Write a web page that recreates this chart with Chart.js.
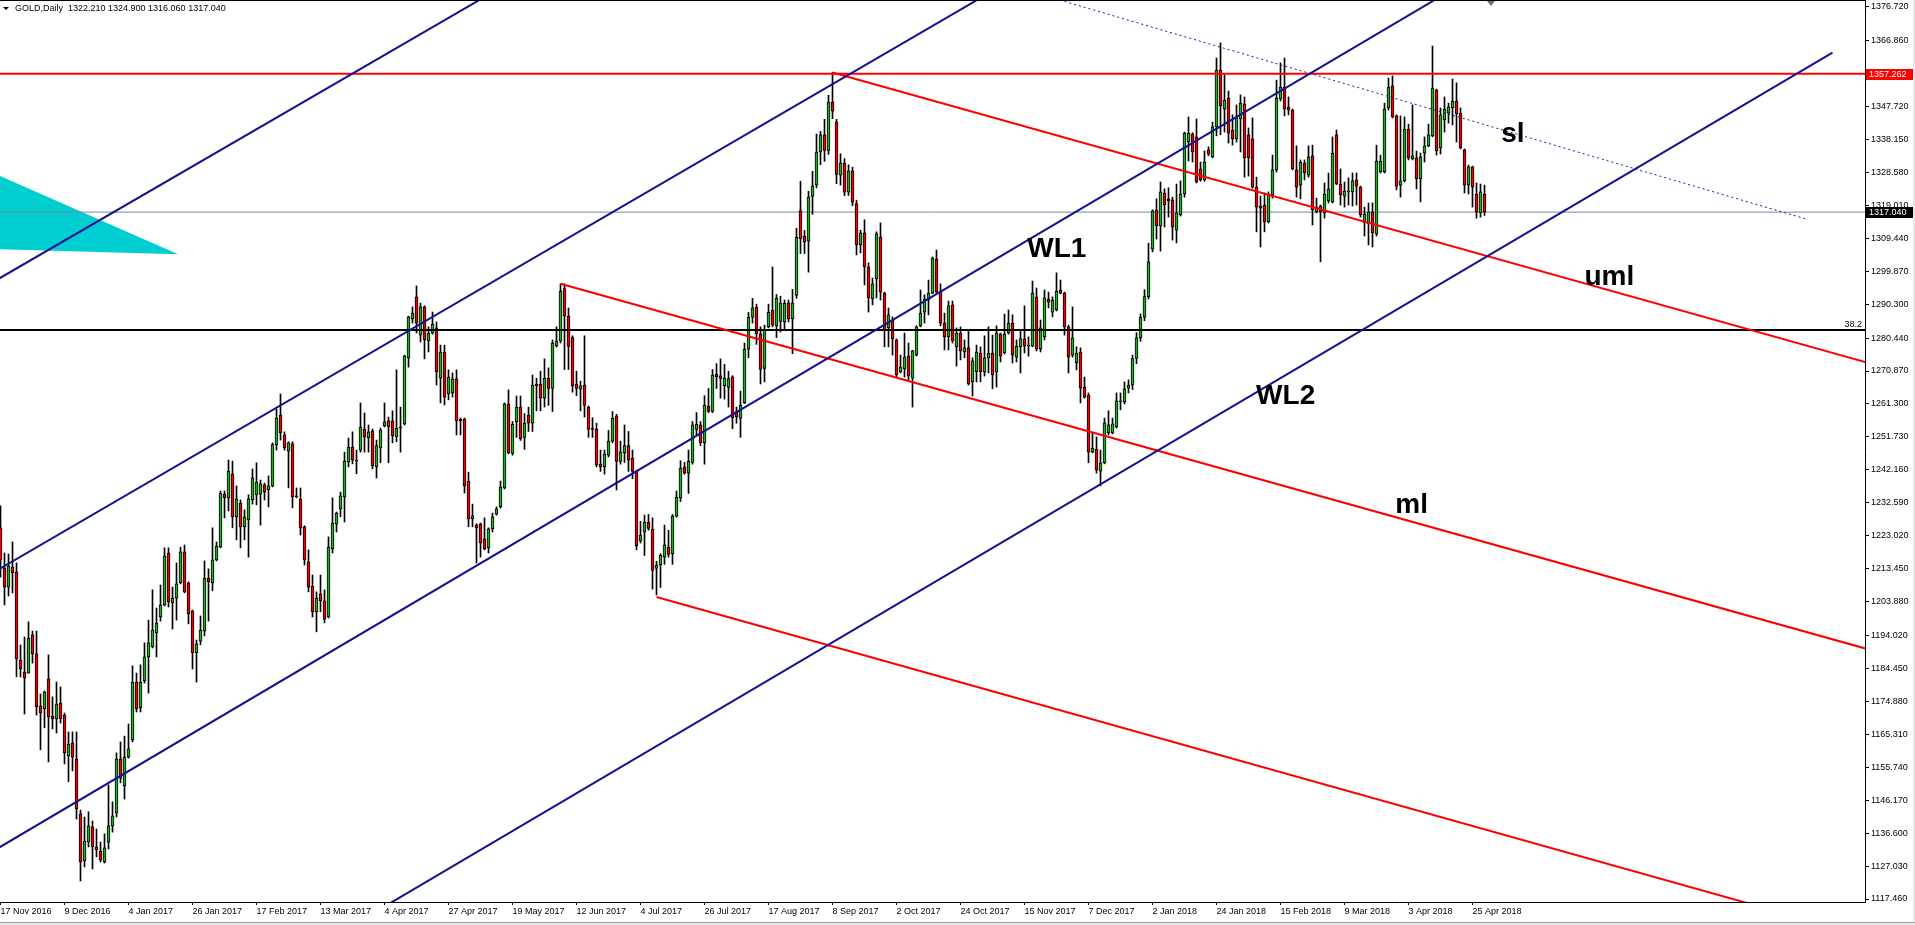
<!DOCTYPE html>
<html>
<head>
<meta charset="utf-8">
<title>GOLD,Daily</title>
<script src="https://cdn.jsdelivr.net/npm/chart.js@4.4.1/dist/chart.umd.min.js"></script>
<style>
  html, body { margin: 0; padding: 0; background: #fff; overflow: hidden; }
  #wrap { position: relative; width: 1915px; height: 925px; }
</style>
</head>
<body>
<div id="wrap"><canvas id="goldChart" width="1915" height="925"></canvas></div>
<script>
// ===== 데이터 (GOLD, Daily) =====
const headerText = 'GOLD,Daily  1322.210 1324.900 1316.060 1317.040';

// date labels, every 16 bars
const dateLabels = ['17 Nov 2016', '9 Dec 2016', '4 Jan 2017', '26 Jan 2017', '17 Feb 2017', '13 Mar 2017',
    '4 Apr 2017', '27 Apr 2017', '19 May 2017', '12 Jun 2017', '4 Jul 2017', '26 Jul 2017', '17 Aug 2017',
    '8 Sep 2017', '2 Oct 2017', '24 Oct 2017', '15 Nov 2017', '7 Dec 2017', '2 Jan 2018', '24 Jan 2018',
    '15 Feb 2018', '9 Mar 2018', '3 Apr 2018', '25 Apr 2018'];
const dateTickBars = [0, 16, 32, 48, 64, 80, 96, 112, 128, 144, 160, 176, 192, 208, 224, 240, 256, 272,
    288, 304, 320, 336, 352, 368];

const priceTicks = [1376.72, 1366.86, 1347.72, 1338.15, 1328.58, 1319.01, 1309.44, 1299.87, 1290.30,
    1280.44, 1270.87, 1261.30, 1251.73, 1242.16, 1232.59, 1223.02, 1213.45, 1203.88, 1194.02, 1184.45,
    1174.88, 1165.31, 1155.74, 1146.17, 1136.60, 1127.03, 1117.46];

const opens = [
    1225.3, 1213.6, 1208.1, 1213.9, 1212.5, 1186.9, 1183.4, 1183.1, 1194.2, 1188.7,
    1173.5, 1172.7, 1181.4, 1170.6, 1169.8, 1174.4, 1170.9, 1159.0, 1162.8, 1158.2,
    1142.2, 1128.5, 1134.0, 1138.4, 1132.6, 1131.4, 1128.2, 1134.0, 1138.7, 1142.5,
    1158.2, 1150.3, 1158.7, 1163.7, 1180.5, 1173.0, 1180.8, 1187.8, 1190.7, 1194.8,
    1199.4, 1202.9, 1218.0, 1203.5, 1204.9, 1209.3, 1218.3, 1209.3, 1201.2, 1189.0,
    1192.4, 1195.3, 1210.7, 1209.3, 1216.0, 1219.7, 1235.1, 1234.0, 1241.0, 1228.5,
    1232.5, 1225.6, 1227.6, 1233.4, 1234.9, 1235.1, 1237.8, 1236.3, 1237.5, 1249.5,
    1258.1, 1252.3, 1247.6, 1249.7, 1234.6, 1233.7, 1225.6, 1215.4, 1208.4, 1200.9,
    1206.1, 1204.1, 1199.4, 1219.2, 1226.4, 1230.8, 1234.3, 1244.4, 1248.8, 1245.0,
    1247.9, 1254.0, 1251.4, 1253.5, 1243.0, 1248.5, 1254.9, 1256.4, 1256.4, 1251.7,
    1254.6, 1255.5, 1274.7, 1286.0, 1292.4, 1281.3, 1289.5, 1279.6, 1281.9, 1283.4,
    1268.8, 1276.4, 1264.2, 1264.5, 1268.6, 1256.9, 1256.9, 1238.9, 1227.9, 1226.1,
    1226.4, 1222.1, 1219.5, 1225.0, 1229.3, 1231.4, 1236.9, 1261.3, 1246.9, 1256.1,
    1260.4, 1251.6, 1258.1, 1255.7, 1267.1, 1267.1, 1263.0, 1268.8, 1265.8, 1278.2,
    1279.6, 1294.8, 1286.8, 1280.6, 1267.1, 1265.6, 1266.8, 1260.4, 1254.3, 1253.9,
    1243.8, 1243.0, 1246.4, 1250.5, 1257.8, 1244.6, 1247.1, 1249.2, 1245.6, 1241.7,
    1221.5, 1224.1, 1227.0, 1224.9, 1213.5, 1214.5, 1216.8, 1219.7, 1217.8, 1228.7,
    1233.9, 1243.0, 1241.2, 1244.3, 1253.9, 1255.2, 1250.0, 1260.6, 1259.1, 1269.9,
    1269.5, 1266.6, 1266.1, 1269.2, 1259.1, 1257.1, 1261.6, 1277.2, 1286.5, 1289.4,
    1281.7, 1271.6, 1283.7, 1288.6, 1284.0, 1285.3, 1285.1, 1290.7, 1286.1, 1292.8,
    1317.5, 1310.0, 1308.6, 1321.6, 1324.9, 1334.5, 1339.5, 1335.0, 1349.0, 1343.3,
    1327.8, 1331.3, 1322.8, 1329.0, 1319.5, 1307.5, 1311.0, 1301.1, 1291.8, 1297.6,
    1309.8, 1293.5, 1283.4, 1285.7, 1279.9, 1270.6, 1271.5, 1275.2, 1268.8, 1275.5,
    1284.0, 1288.0, 1291.5, 1293.5, 1303.4, 1293.8, 1284.8, 1280.8, 1290.1, 1277.9,
    1281.9, 1276.4, 1277.6, 1267.7, 1270.6, 1276.1, 1270.6, 1274.7, 1276.1, 1270.6,
    1281.6, 1276.1, 1281.9, 1284.8, 1274.9, 1277.9, 1280.2, 1278.1, 1278.1, 1292.4,
    1277.3, 1280.8, 1291.8, 1288.0, 1288.6, 1294.4, 1293.5, 1283.7, 1275.5, 1273.2,
    1276.4, 1266.2, 1263.9, 1247.3, 1248.2, 1241.8, 1244.2, 1252.9, 1252.9, 1254.6,
    1261.9, 1261.9, 1265.9, 1266.8, 1274.5, 1280.5, 1286.5, 1292.5, 1306.3, 1317.7,
    1313.0, 1322.6, 1320.9, 1320.6, 1311.8, 1316.2, 1322.3, 1337.4, 1339.7, 1338.9,
    1329.6, 1326.4, 1335.1, 1333.1, 1341.8, 1358.3, 1347.0, 1350.2, 1340.9, 1338.3,
    1344.1, 1348.5, 1339.5, 1338.3, 1324.3, 1318.8, 1319.1, 1314.2, 1322.0, 1329.3,
    1349.9, 1353.4, 1347.6, 1346.7, 1329.3, 1324.9, 1331.3, 1327.8, 1333.4, 1317.1,
    1318.8, 1316.8, 1320.3, 1320.0, 1339.5, 1325.2, 1321.7, 1322.9, 1322.9, 1326.4,
    1324.3, 1313.9, 1313.6, 1317.1, 1310.7, 1328.7, 1328.7, 1347.3, 1353.7, 1345.0,
    1324.9, 1326.1, 1341.2, 1332.5, 1332.8, 1326.7, 1334.2, 1336.3, 1339.2, 1352.5,
    1335.7, 1343.8, 1345.8, 1347.3, 1349.3, 1345.8, 1335.1, 1324.9, 1330.2, 1322.3,
    1316.8, 1322.21
];
const highs = [
    1231.7, 1218.0, 1217.7, 1221.2, 1215.1, 1191.3, 1193.6, 1198.0, 1195.3, 1195.3,
    1177.0, 1177.9, 1188.4, 1176.2, 1180.5, 1179.1, 1171.5, 1166.0, 1166.0, 1166.0,
    1143.3, 1141.3, 1142.8, 1140.1, 1137.8, 1134.0, 1136.4, 1150.6, 1145.7, 1159.9,
    1163.1, 1164.8, 1168.3, 1185.2, 1183.1, 1185.5, 1191.9, 1198.5, 1207.3, 1202.0,
    1208.7, 1219.5, 1219.5, 1208.1, 1215.1, 1219.7, 1220.3, 1209.6, 1201.4, 1192.7,
    1199.7, 1215.7, 1213.4, 1225.3, 1221.2, 1236.0, 1236.0, 1245.0, 1244.7, 1237.5,
    1233.4, 1230.5, 1234.9, 1242.4, 1244.2, 1239.2, 1238.3, 1240.4, 1250.0, 1259.8,
    1264.2, 1253.2, 1250.3, 1250.3, 1236.9, 1236.9, 1225.9, 1218.9, 1211.6, 1206.7,
    1211.6, 1207.3, 1222.7, 1234.0, 1229.9, 1235.7, 1247.3, 1251.4, 1253.2, 1247.9,
    1261.6, 1258.7, 1255.2, 1254.0, 1250.8, 1254.3, 1261.6, 1257.5, 1259.3, 1271.2,
    1260.4, 1275.5, 1286.8, 1289.5, 1295.6, 1290.6, 1289.8, 1283.7, 1288.0, 1285.1,
    1278.4, 1278.4, 1271.2, 1270.3, 1271.2, 1257.2, 1257.2, 1241.5, 1232.2, 1226.5,
    1226.7, 1228.2, 1225.3, 1229.6, 1231.4, 1238.9, 1261.6, 1265.4, 1256.2, 1263.6,
    1263.6, 1258.5, 1260.4, 1269.7, 1268.8, 1270.8, 1274.4, 1271.8, 1279.9, 1283.7,
    1296.2, 1296.2, 1289.2, 1281.1, 1270.8, 1267.9, 1281.1, 1260.7, 1257.3, 1255.7,
    1247.9, 1247.9, 1253.6, 1259.1, 1258.3, 1250.5, 1255.2, 1253.3, 1247.9, 1242.0,
    1227.2, 1229.0, 1229.2, 1228.2, 1215.6, 1217.8, 1226.1, 1224.6, 1229.2, 1236.0,
    1244.8, 1244.3, 1247.9, 1256.2, 1258.8, 1256.2, 1263.7, 1265.8, 1271.3, 1273.0,
    1274.4, 1272.8, 1270.8, 1269.5, 1260.4, 1265.0, 1279.0, 1287.9, 1292.0, 1290.3,
    1283.7, 1284.2, 1290.3, 1301.1, 1293.1, 1292.6, 1291.5, 1291.5, 1294.6, 1312.3,
    1326.0, 1311.7, 1323.1, 1328.9, 1339.7, 1340.5, 1344.0, 1351.0, 1357.6, 1344.0,
    1334.0, 1332.6, 1330.8, 1330.1, 1320.5, 1311.8, 1314.8, 1302.3, 1297.9, 1311.3,
    1313.9, 1293.8, 1289.2, 1286.6, 1280.2, 1275.5, 1281.9, 1279.0, 1276.9, 1284.0,
    1294.4, 1293.0, 1297.3, 1304.0, 1306.0, 1296.2, 1287.7, 1291.2, 1291.2, 1283.4,
    1283.7, 1279.9, 1282.8, 1274.7, 1278.4, 1277.9, 1281.1, 1283.7, 1281.3, 1284.0,
    1281.9, 1287.4, 1288.6, 1287.2, 1279.9, 1282.8, 1289.8, 1280.8, 1297.0, 1295.0,
    1285.7, 1294.4, 1293.8, 1292.4, 1299.4, 1297.3, 1293.8, 1284.2, 1289.5, 1277.9,
    1277.6, 1269.1, 1264.5, 1252.9, 1251.7, 1247.9, 1257.2, 1259.3, 1257.2, 1264.5,
    1264.5, 1267.7, 1268.3, 1275.5, 1282.0, 1287.5, 1294.5, 1308.0, 1317.7, 1320.9,
    1325.8, 1323.8, 1324.1, 1321.4, 1325.2, 1326.1, 1340.3, 1344.7, 1340.1, 1344.1,
    1331.6, 1334.8, 1336.0, 1343.2, 1361.8, 1366.2, 1356.9, 1352.2, 1345.3, 1348.2,
    1351.1, 1350.5, 1341.5, 1344.4, 1327.2, 1321.7, 1322.6, 1322.9, 1333.6, 1355.4,
    1360.4, 1361.8, 1350.5, 1347.0, 1336.3, 1332.2, 1332.2, 1336.3, 1336.5, 1321.1,
    1319.1, 1325.5, 1328.4, 1338.9, 1340.9, 1329.6, 1325.8, 1327.0, 1328.4, 1328.4,
    1324.6, 1318.5, 1319.7, 1319.7, 1336.5, 1333.6, 1348.7, 1356.0, 1356.6, 1345.3,
    1345.0, 1344.7, 1342.6, 1348.2, 1334.8, 1334.2, 1338.9, 1342.6, 1365.3, 1352.8,
    1347.3, 1350.5, 1348.7, 1355.7, 1354.6, 1347.3, 1335.4, 1330.7, 1330.4, 1325.5,
    1325.2, 1324.9
];
const lows = [
    1211.0, 1202.9, 1205.5, 1206.4, 1182.0, 1182.0, 1171.2, 1183.1, 1186.0, 1170.9,
    1160.8, 1167.2, 1157.3, 1166.9, 1165.7, 1168.6, 1156.7, 1151.5, 1154.7, 1140.7,
    1122.7, 1126.8, 1132.6, 1126.2, 1129.7, 1128.2, 1127.9, 1132.0, 1136.9, 1141.3,
    1151.2, 1146.5, 1158.4, 1163.1, 1171.8, 1171.8, 1180.2, 1177.3, 1190.4, 1187.8,
    1198.2, 1202.6, 1202.3, 1195.9, 1198.5, 1209.0, 1206.4, 1197.4, 1184.3, 1180.5,
    1191.3, 1193.9, 1198.2, 1207.0, 1215.7, 1219.5, 1228.2, 1230.2, 1225.3, 1221.8,
    1219.5, 1221.8, 1216.8, 1232.2, 1232.0, 1226.1, 1233.4, 1231.4, 1237.2, 1247.9,
    1250.8, 1247.9, 1236.9, 1231.1, 1234.0, 1223.2, 1214.5, 1206.7, 1199.4, 1195.1,
    1200.9, 1197.7, 1199.1, 1218.0, 1224.1, 1228.5, 1227.0, 1243.0, 1243.9, 1241.0,
    1247.3, 1247.3, 1247.3, 1242.4, 1239.8, 1244.2, 1254.6, 1244.2, 1250.0, 1250.3,
    1247.3, 1255.2, 1272.0, 1284.8, 1281.9, 1279.3, 1274.4, 1276.4, 1281.6, 1266.8,
    1261.6, 1261.0, 1262.5, 1263.3, 1252.3, 1252.3, 1235.4, 1225.6, 1225.6, 1215.1,
    1216.8, 1218.9, 1218.0, 1224.1, 1229.0, 1231.0, 1236.6, 1246.8, 1246.4, 1251.6,
    1250.7, 1248.1, 1253.3, 1253.3, 1259.3, 1259.3, 1260.4, 1260.9, 1259.1, 1277.8,
    1279.0, 1271.3, 1271.3, 1264.7, 1263.7, 1259.3, 1257.5, 1251.6, 1251.6, 1243.0,
    1241.7, 1240.9, 1245.9, 1250.0, 1236.3, 1243.8, 1244.3, 1241.7, 1239.6, 1218.9,
    1220.9, 1217.3, 1224.6, 1207.5, 1205.8, 1208.0, 1214.7, 1216.8, 1214.7, 1228.4,
    1232.9, 1240.9, 1235.3, 1243.8, 1252.1, 1249.2, 1243.8, 1258.8, 1258.8, 1265.8,
    1263.0, 1262.7, 1260.4, 1254.1, 1255.7, 1251.6, 1261.4, 1274.7, 1284.8, 1278.6,
    1267.1, 1267.7, 1283.4, 1283.7, 1280.6, 1282.2, 1282.7, 1285.1, 1275.9, 1292.0,
    1305.0, 1305.0, 1299.6, 1316.4, 1324.1, 1330.8, 1331.8, 1333.8, 1344.2, 1325.3,
    1324.9, 1321.8, 1321.9, 1318.9, 1304.6, 1305.2, 1295.9, 1288.0, 1290.1, 1292.1,
    1291.5, 1277.9, 1277.9, 1275.5, 1269.1, 1270.3, 1269.1, 1268.3, 1260.4, 1275.2,
    1283.7, 1284.8, 1287.2, 1293.3, 1293.3, 1284.0, 1277.0, 1277.0, 1279.0, 1272.3,
    1274.1, 1274.7, 1266.8, 1263.6, 1267.7, 1267.7, 1269.4, 1270.3, 1265.7, 1266.2,
    1273.5, 1275.8, 1281.6, 1273.2, 1273.5, 1270.3, 1276.1, 1275.2, 1277.9, 1276.7,
    1276.4, 1279.9, 1289.2, 1286.6, 1288.3, 1293.3, 1281.3, 1270.3, 1274.9, 1271.2,
    1261.6, 1263.0, 1244.2, 1247.1, 1241.2, 1237.5, 1243.9, 1252.3, 1252.6, 1254.3,
    1259.6, 1261.3, 1264.5, 1265.5, 1273.0, 1279.5, 1285.5, 1291.8, 1305.5, 1309.2,
    1305.7, 1312.7, 1315.6, 1308.9, 1308.1, 1315.9, 1321.4, 1331.9, 1331.6, 1325.5,
    1326.0, 1326.0, 1333.4, 1332.8, 1339.2, 1339.5, 1340.3, 1337.1, 1336.5, 1337.4,
    1334.5, 1327.2, 1327.5, 1324.0, 1311.3, 1306.9, 1311.3, 1313.9, 1321.1, 1328.7,
    1349.3, 1345.0, 1345.3, 1329.3, 1321.4, 1320.9, 1326.4, 1327.2, 1313.3, 1316.8,
    1302.6, 1315.3, 1319.7, 1319.7, 1325.0, 1319.1, 1318.5, 1319.1, 1318.8, 1319.1,
    1315.6, 1310.1, 1307.5, 1306.9, 1310.1, 1328.4, 1328.4, 1346.7, 1344.4, 1323.5,
    1321.4, 1325.8, 1332.2, 1332.2, 1323.8, 1320.0, 1331.6, 1336.0, 1338.9, 1333.6,
    1333.9, 1340.3, 1342.9, 1342.4, 1337.4, 1335.4, 1322.6, 1322.3, 1318.5, 1315.3,
    1315.6, 1316.06
];
const closes = [
    1216.0, 1208.1, 1214.2, 1212.2, 1187.2, 1184.3, 1181.7, 1193.3, 1188.7, 1173.3,
    1171.5, 1177.6, 1170.4, 1169.8, 1174.1, 1169.8, 1159.9, 1162.5, 1158.7, 1143.6,
    1128.2, 1134.3, 1138.7, 1132.6, 1131.7, 1128.8, 1132.3, 1138.7, 1141.6, 1158.2,
    1152.6, 1158.7, 1161.1, 1180.5, 1172.7, 1180.5, 1187.8, 1191.9, 1195.6, 1197.7,
    1202.9, 1217.1, 1203.8, 1204.9, 1209.0, 1218.3, 1206.7, 1200.3, 1189.0, 1191.6,
    1195.6, 1210.7, 1209.6, 1216.0, 1220.0, 1235.4, 1234.0, 1241.8, 1228.5, 1233.7,
    1225.6, 1228.5, 1233.7, 1239.8, 1238.6, 1238.1, 1235.7, 1237.5, 1249.5, 1257.2,
    1252.9, 1248.5, 1250.0, 1234.3, 1234.3, 1225.3, 1216.0, 1208.1, 1200.9, 1204.9,
    1204.1, 1198.8, 1219.7, 1226.7, 1229.6, 1234.6, 1244.7, 1248.8, 1245.0, 1244.7,
    1254.6, 1251.7, 1253.2, 1243.3, 1249.2, 1253.7, 1256.1, 1254.6, 1252.0, 1254.3,
    1254.3, 1275.2, 1286.6, 1287.7, 1284.8, 1289.5, 1279.9, 1281.9, 1284.5, 1270.6,
    1276.4, 1263.3, 1269.1, 1268.6, 1256.4, 1256.4, 1237.5, 1227.9, 1228.8, 1225.3,
    1220.9, 1219.2, 1225.0, 1228.5, 1230.8, 1237.2, 1261.3, 1247.1, 1255.4, 1260.4,
    1251.2, 1255.7, 1255.7, 1266.8, 1266.6, 1263.0, 1268.8, 1265.8, 1279.0, 1279.6,
    1294.0, 1286.8, 1278.0, 1266.6, 1265.8, 1266.6, 1260.9, 1253.9, 1253.9, 1243.6,
    1243.0, 1246.7, 1250.5, 1257.1, 1244.6, 1247.4, 1249.2, 1245.0, 1241.7, 1220.1,
    1223.2, 1227.0, 1225.1, 1212.9, 1214.5, 1217.3, 1220.4, 1217.6, 1228.7, 1234.2,
    1242.7, 1241.2, 1244.6, 1255.2, 1255.4, 1250.0, 1260.9, 1259.1, 1269.7, 1269.2,
    1268.7, 1268.9, 1268.7, 1257.3, 1257.5, 1260.9, 1277.2, 1286.5, 1289.2, 1281.7,
    1271.3, 1282.7, 1287.9, 1284.2, 1292.0, 1290.7, 1290.5, 1286.1, 1290.7, 1309.7,
    1309.3, 1308.3, 1321.4, 1324.7, 1334.5, 1339.5, 1335.0, 1349.0, 1346.4, 1328.0,
    1331.3, 1322.8, 1329.0, 1319.9, 1307.5, 1311.0, 1301.1, 1292.1, 1296.2, 1310.7,
    1293.8, 1282.8, 1287.2, 1280.2, 1269.7, 1272.0, 1274.9, 1269.4, 1276.7, 1283.7,
    1287.7, 1291.8, 1293.5, 1303.7, 1293.8, 1284.8, 1280.8, 1289.8, 1279.6, 1281.9,
    1276.7, 1277.6, 1267.1, 1273.8, 1276.4, 1270.6, 1274.7, 1276.1, 1269.7, 1281.9,
    1275.2, 1281.6, 1284.8, 1275.5, 1278.1, 1280.2, 1278.1, 1278.4, 1293.5, 1277.3,
    1283.4, 1292.1, 1290.9, 1291.5, 1294.1, 1293.5, 1283.7, 1274.9, 1280.5, 1276.1,
    1265.9, 1263.3, 1247.3, 1248.5, 1242.1, 1244.2, 1255.8, 1255.2, 1255.5, 1262.2,
    1262.2, 1265.7, 1266.8, 1274.5, 1280.5, 1286.5, 1292.5, 1302.6, 1317.4, 1313.0,
    1322.9, 1319.1, 1320.3, 1312.7, 1316.8, 1322.3, 1340.0, 1340.0, 1334.5, 1325.8,
    1326.4, 1331.6, 1333.9, 1341.8, 1358.3, 1347.9, 1349.6, 1340.0, 1338.3, 1344.4,
    1348.7, 1332.8, 1332.8, 1324.3, 1318.5, 1318.2, 1314.2, 1322.3, 1329.3, 1350.2,
    1353.4, 1347.0, 1346.7, 1329.6, 1324.3, 1331.6, 1328.4, 1333.1, 1317.7, 1318.5,
    1317.1, 1322.3, 1323.8, 1334.2, 1325.2, 1322.0, 1323.2, 1323.2, 1326.1, 1324.6,
    1316.2, 1316.5, 1317.1, 1311.0, 1331.9, 1331.9, 1347.0, 1353.4, 1344.7, 1324.6,
    1326.1, 1341.2, 1332.8, 1333.4, 1326.7, 1333.1, 1336.3, 1339.5, 1353.1, 1334.8,
    1345.3, 1347.0, 1347.6, 1349.3, 1345.6, 1335.7, 1324.9, 1330.2, 1324.3, 1317.1,
    1322.9, 1317.04
];

// 추세선: [bar, price] 두 점
const channelLineA = [[-2, 1296.63], [125, 1382.23]];
const channelLineB = [[-2, 1212.20], [250, 1382.63]];
const channelLineC = [[-2, 1131.29], [370, 1386.55]];
const channelLineD = [[95, 1114.6], [458, 1363.4]];
const forkUpper = [[208, 1357.6], [467, 1273.2]];
const forkMiddle = [[140, 1296.2], [467, 1190.0]];
const forkLower = [[164, 1205.2], [467, 1106.4]];
const slLine = [[260, 1380.3], [451.25, 1315.1]];
const resistanceLevel = 1357.262;
const fibLevel = 1282.8;
const bidLevel = 1317.04;
const cyanWedge = [[-10, 1332.6], [44.4, 1304.8], [-10, 1306.55]];

// 텍스트 라벨
const noteTexts = ['WL1', 'sl', 'uml', 'WL2', 'ml'];
const noteBars = [256.7, 375.2, 396.0, 313.9, 348.7];
const notePrices = [1304.1, 1337.5, 1296.0, 1261.3, 1229.6];

// ===== 설정 =====
const BULL = '#1fb01f';
const BEAR = '#f00000';
const NAVY = '#12128f';
const AXIS_FONT = { family: '"Liberation Sans", Arial, sans-serif', size: 9 };

const toPts = arr => arr.map(p => ({ x: p[0], y: p[1] }));
const flatLine = v => [{ x: -1, y: v }, { x: 470, y: v }];

const wickData = lows.map((l, i) => ({ x: i, y: [l, highs[i]] }));
const bodyData = opens.map((o, i) => ({ x: i, y: [o, closes[i]] }));

function lineSet(points, color, width, order, dash) {
    return {
        type: 'line',
        data: points,
        borderColor: color,
        borderWidth: width,
        borderDash: dash || [],
        pointRadius: 0,
        fill: false,
        tension: 0,
        clip: 0,
        order: order
    };
}

// ===== 장식 플러그인 =====
const mtDecor = {
    id: 'mtDecor',
    afterDraw(chart) {
        const { ctx, chartArea, scales } = chart;
        const xs = scales.x, ys = scales.y;
        ctx.save();

        // chart frame
        ctx.fillStyle = '#000';
        ctx.fillRect(0, 0, chartArea.right, 1);
        ctx.fillStyle = '#a0a0a0';
        ctx.fillRect(0, 922, 1915, 1);
        ctx.fillStyle = '#e8e8e8';
        ctx.fillRect(0, 923, 1915, 2);
        ctx.fillRect(1913, 0, 2, 922);

        // header
        ctx.fillStyle = '#000';
        ctx.beginPath();
        ctx.moveTo(3, 7); ctx.lineTo(9, 7); ctx.lineTo(6, 10); ctx.closePath();
        ctx.fill();
        ctx.font = '9px "Liberation Sans", Arial, sans-serif';
        ctx.textAlign = 'left';
        ctx.textBaseline = 'middle';
        ctx.fillText(headerText, 15, 9);

        // chart shift marker
        const mx = Math.round(xs.getPixelForValue(372.5));
        ctx.fillStyle = '#707070';
        ctx.beginPath();
        ctx.moveTo(mx - 4, 1); ctx.lineTo(mx + 4, 1); ctx.lineTo(mx, 6); ctx.closePath();
        ctx.fill();

        // 38.2 fib label
        ctx.fillStyle = '#000';
        ctx.textAlign = 'right';
        ctx.textBaseline = 'bottom';
        ctx.fillText('38.2', chartArea.right - 3, Math.round(ys.getPixelForValue(fibLevel)) - 1);

        // annotations
        ctx.font = 'bold 28px "Liberation Sans", Arial, sans-serif';
        ctx.textAlign = 'left';
        ctx.textBaseline = 'alphabetic';
        noteTexts.forEach((t, k) => {
            ctx.fillText(t, xs.getPixelForValue(noteBars[k]), ys.getPixelForValue(notePrices[k]));
        });

        // price tags on axis
        ctx.font = '9px "Liberation Sans", Arial, sans-serif';
        ctx.textBaseline = 'middle';
        ctx.textAlign = 'left';
        [[resistanceLevel, '1357.262', '#ff0000'], [bidLevel, '1317.040', '#000000']].forEach(([v, t, c]) => {
            const py = Math.round(ys.getPixelForValue(v));
            ctx.fillStyle = c;
            ctx.fillRect(chartArea.right + 1, py - 5, 47, 11);
            ctx.fillStyle = '#fff';
            ctx.fillText(t, chartArea.right + 4, py + 0.5);
        });
        ctx.restore();
    }
};

// ===== 차트 =====
const ctx = document.getElementById('goldChart').getContext('2d');
new Chart(ctx, {
    type: 'bar',
    data: {
        datasets: [
            lineSet(toPts(channelLineA), NAVY, 2, 1),
            lineSet(toPts(channelLineB), NAVY, 2, 1),
            lineSet(toPts(channelLineC), NAVY, 2, 1),
            lineSet(toPts(channelLineD), NAVY, 2, 1),
            lineSet(toPts(slLine), '#1a1aa8', 1, 1, [2, 3]),
            lineSet(toPts(forkUpper), '#ff0000', 2, 2),
            lineSet(toPts(forkMiddle), '#ff0000', 2, 2),
            lineSet(toPts(forkLower), '#ff0000', 2, 2),
            lineSet(flatLine(resistanceLevel), '#ff0000', 2, 2),
            lineSet(flatLine(fibLevel), '#000000', 2, 3),
            {
                type: 'bar',
                data: bodyData,
                backgroundColor: c => (closes[c.dataIndex] >= opens[c.dataIndex] ? BULL : BEAR),
                borderColor: '#000',
                borderWidth: 1,
                borderSkipped: false,
                barThickness: 3,
                minBarLength: 1,
                grouped: false,
                order: 5
            },
            {
                type: 'bar',
                data: wickData,
                backgroundColor: '#000',
                borderWidth: 0,
                barThickness: 1,
                grouped: false,
                order: 6
            },
            lineSet(flatLine(bidLevel), '#778899', 1, 7),
            {
                type: 'line',
                data: toPts(cyanWedge),
                borderWidth: 0,
                borderColor: 'rgba(0,0,0,0)',
                backgroundColor: '#00CED1',
                pointRadius: 0,
                fill: 'shape',
                tension: 0,
                clip: 0,
                order: 8
            }
        ]
    },
    options: {
        responsive: false,
        animation: false,
        devicePixelRatio: 1,
        events: [],
        layout: { padding: 0, autoPadding: false },
        plugins: { legend: { display: false }, tooltip: { enabled: false } },
        scales: {
            x: {
                type: 'linear',
                min: -0.125,
                max: 466.125,
                offset: false,
                grid: { display: true, offset: false, drawOnChartArea: false, drawTicks: true, tickLength: 3, color: '#000' },
                border: { display: true, color: '#000', width: 1 },
                afterBuildTicks: s => { s.ticks = dateTickBars.map(v => ({ value: v })); },
                afterFit: s => { s.height = 23; s.paddingLeft = 0; s.paddingRight = 0; },
                ticks: {
                    autoSkip: false,
                    maxRotation: 0,
                    minRotation: 0,
                    align: 'start',
                    padding: 1,
                    color: '#000',
                    font: AXIS_FONT,
                    callback: v => dateLabels[dateTickBars.indexOf(v)]
                }
            },
            y: {
                type: 'linear',
                position: 'right',
                min: 1116.59,
                max: 1378.67,
                grid: { display: true, drawOnChartArea: false, drawTicks: true, tickLength: 4, color: '#000' },
                border: { display: true, color: '#000', width: 1 },
                afterBuildTicks: s => { s.ticks = priceTicks.map(v => ({ value: v })); },
                afterFit: s => { s.width = 50; s.paddingTop = 0; s.paddingBottom = 0; },
                ticks: {
                    autoSkip: false,
                    padding: 2,
                    color: '#000',
                    font: AXIS_FONT,
                    callback: v => Number(v).toFixed(3)
                }
            }
        }
    },
    plugins: [mtDecor]
});
</script>
</body>
</html>
